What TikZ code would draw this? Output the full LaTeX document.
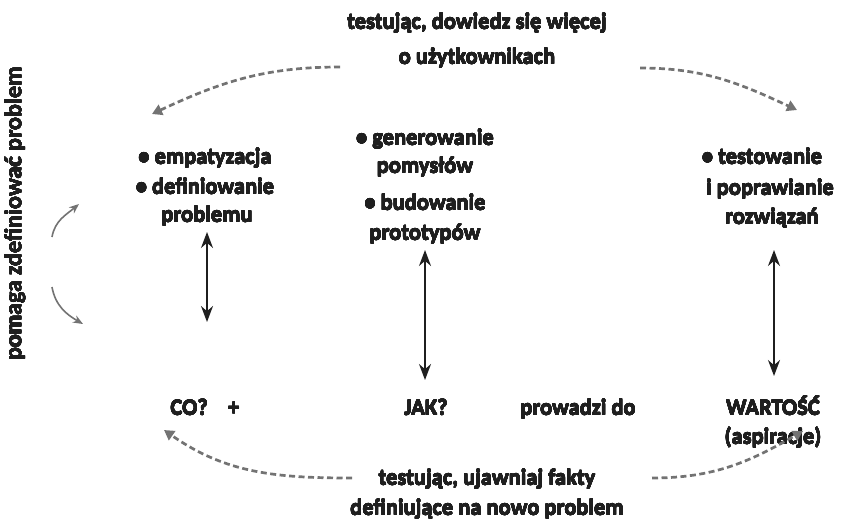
\documentclass[tikz,border=0pt]{standalone}
\usepackage{fontspec}
\setmainfont{Carlito}
\usepackage{contour}
\contourlength{0.15pt}
\newcommand\heavy[1]{\contour{black!88}{#1}}
\usetikzlibrary{arrows.meta}
\begin{document}
\begin{tikzpicture}[x=1pt,y=-1pt,
  lbl/.style={font=\fontsize{22.5}{28}\selectfont\bfseries, text=black!88, inner sep=0pt, anchor=base},
  dasharrow/.style={draw=black!55, line width=2.7pt, dash pattern=on 6pt off 3.5pt, -{Triangle[length=10pt,width=11pt]}},
  dblarrow/.style={draw=black!88, line width=1.7pt, {Stealth[length=16pt,width=12pt]}-{Stealth[length=16pt,width=12pt]}},
  grayarrow/.style={draw=black!55, line width=1.6pt, -{Stealth[length=10pt,width=8pt]}}]
\useasboundingbox (0,0) rectangle (843,520);
% top
\node[lbl] (top1) at (477,29) {\heavy{testując, dowiedz się więcej}};
\node[lbl] (top2) at (477,64) {\heavy{o użytkownikach}};
% left
\node[lbl] (l1) at (205,164) {\heavy{\textbullet{} empatyzacja}};
\node[lbl] (l2) at (205,194) {\heavy{\textbullet{} definiowanie}};
\node[lbl] (l3) at (207,222) {\heavy{problemu}};
% middle
\node[lbl] (m1) at (425,145) {\heavy{\textbullet{} generowanie}};
\node[lbl] (m2) at (425,173) {\heavy{pomysłów}};
\node[lbl] (m3) at (425,210) {\heavy{\textbullet{} budowanie}};
\node[lbl] (m4) at (425,240) {\heavy{prototypów}};
% right
\node[lbl] (r1) at (762,164) {\heavy{\textbullet{} testowanie}};
\node[lbl] (r2) at (770,195) {\heavy{i poprawianie}};
\node[lbl] (r3) at (772,224) {\heavy{rozwiązań}};
% bottom row
\node[lbl] (co) at (205,415) {\heavy{CO?\hspace{0.9em}+}};
\node[lbl] (jak) at (426,415) {\heavy{JAK?}};
\node[lbl] (prow) at (578,415) {\heavy{prowadzi do}};
\node[lbl] (war) at (773,415) {\heavy{WARTOŚĆ}};
\node[lbl] (asp) at (773,444) {\heavy{(aspiracje)}};
% bottom text
\node[lbl] (b1) at (487,485) {\heavy{testując, ujawniaj fakty}};
\node[lbl] (b2) at (487,515) {\heavy{definiujące na nowo problem}};
% side
\node[font=\fontsize{24}{28}\selectfont\bfseries, text=black!88, inner sep=0pt, rotate=90] (side) at (15,214) {\heavy{pomaga zdefiniować problem}};
% dashed arrows
\coordinate (tl1) at (340,67); \coordinate (tl2) at (152,114);
\coordinate (tr1) at (640,68); \coordinate (tr2) at (797,110);
\coordinate (bl1) at (352,478); \coordinate (bl2) at (164,430);
\coordinate (br1) at (652,478); \coordinate (br2) at (803,431);
\draw[dasharrow] (tl1) to[out=180,in=25] (tl2);
\draw[dasharrow] (tr1) to[out=0,in=155] (tr2);
\draw[dasharrow] (bl1) to[out=180,in=-35] (bl2);
\draw[dasharrow] (br1) to[out=0,in=-150] (br2);
% double arrows
\draw[dblarrow] (l3.south |- 0,232) -- (l3.south |- 0,322);
\draw[dblarrow] (m4.south |- 0,250) -- (m4.south |- 0,380);
\draw[dblarrow] (774,250) -- (774,376);
% side arrows
\coordinate (s1) at (52,237); \coordinate (s2) at (79,204);
\coordinate (s3) at (52,287); \coordinate (s4) at (83,324);
\draw[grayarrow] (s1) to[out=80,in=220] (s2);
\draw[grayarrow] (s3) to[out=-80,in=150] (s4);
\end{tikzpicture}
\end{document}
